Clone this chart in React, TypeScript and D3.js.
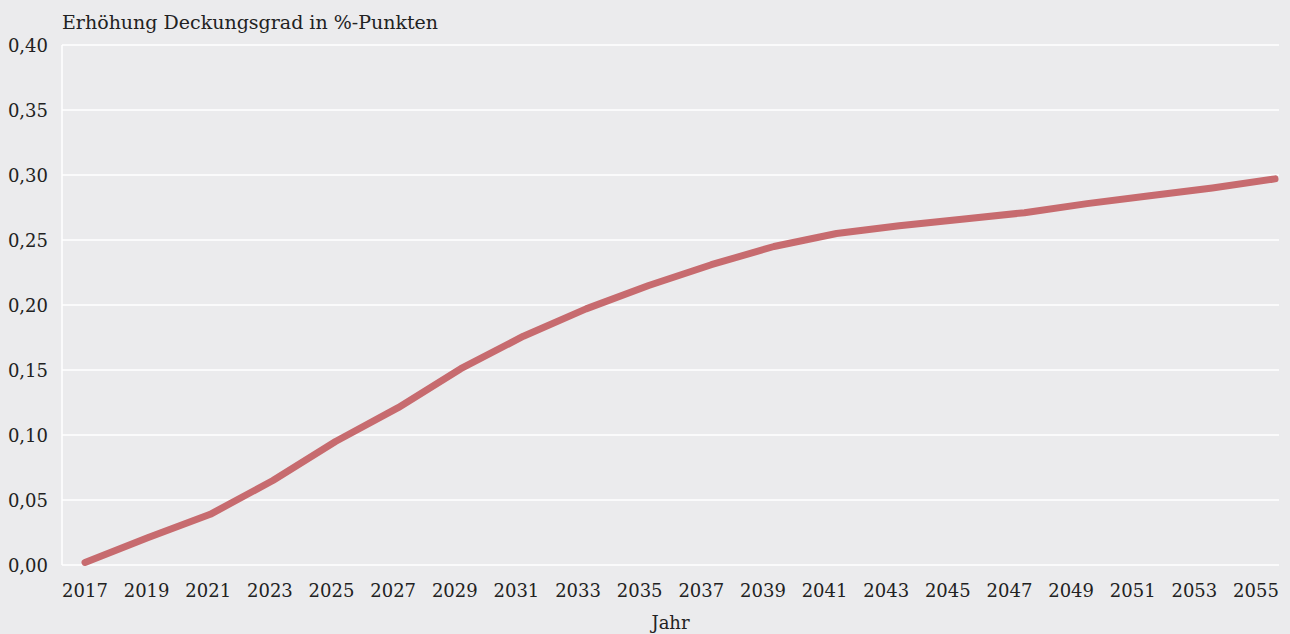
import React from "react";
import * as d3 from "d3";

const years = [2017, 2019, 2021, 2023, 2025, 2027, 2029, 2031, 2033, 2035, 2037, 2039, 2041, 2043, 2045, 2047, 2049, 2051, 2053, 2055];
const values = [0.002, 0.021, 0.039, 0.065, 0.095, 0.121, 0.151, 0.176, 0.197, 0.215, 0.231, 0.245, 0.255, 0.261, 0.266, 0.271, 0.278, 0.284, 0.290, 0.297];
const tickLabels = ["2017", "2019", "2021", "2023", "2025", "2027", "2029", "2031", "2033", "2035", "2037", "2039", "2041", "2043", "2045", "2047", "2049", "2051", "2053", "2055"];
const yTicks = [0, 0.05, 0.1, 0.15, 0.2, 0.25, 0.3, 0.35, 0.4];
const title = "Erhöhung Deckungsgrad in %-Punkten";
const xTitle = "Jahr";

const W = 1290;
const H = 634;
const plotLeft = 62;
const plotRight = 1279;
const plotTop = 45;
const plotBottom = 565;
const FONT = "'DejaVu Serif', 'Liberation Serif', serif";

export default function App() {
  const y = d3.scaleLinear().domain([0, 0.4]).range([plotBottom, plotTop]);
  const xLine = d3.scaleLinear().domain([2017, 2055]).range([85, 1275]);
  const xTick = d3.scalePoint<string>().domain(tickLabels).range([85, 1256]);
  const fmt = (v: number) => d3.format(".2f")(v).replace(".", ",");
  const line = d3
    .line<number>()
    .x((_, i) => xLine(years[i]))
    .y((d) => y(d));

  return (
    <svg width={W} height={H} style={{ position: "absolute", left: 0, top: 0, background: "#EBEBED" }}>
      <rect x={0} y={0} width={W} height={H} fill="#EBEBED" />
      {yTicks.map((t) => (
        <line key={t} x1={plotLeft} x2={plotRight} y1={y(t)} y2={y(t)} stroke="#FFFFFF" strokeWidth={1.5} />
      ))}
      <line x1={plotLeft} x2={plotLeft} y1={plotTop} y2={plotBottom} stroke="#FFFFFF" strokeWidth={1.5} />
      {yTicks.map((t) => (
        <text key={"l" + t} x={48} y={y(t) + 7} textAnchor="end" fontFamily={FONT} fontSize={18} fill="#222">
          {fmt(t)}
        </text>
      ))}
      {tickLabels.map((l) => (
        <text key={l} x={xTick(l)} y={597} textAnchor="middle" fontFamily={FONT} fontSize={18} fill="#222">
          {l}
        </text>
      ))}
      <text x={(plotLeft + plotRight) / 2} y={629} textAnchor="middle" fontFamily={FONT} fontSize={18} fill="#222">
        {xTitle}
      </text>
      <text x={62} y={29} fontFamily={FONT} fontSize={19} fill="#222">
        {title}
      </text>
      <path d={line(values) || ""} fill="none" stroke="#C76B6F" strokeWidth={7} strokeLinecap="round" strokeLinejoin="round" />
    </svg>
  );
}
